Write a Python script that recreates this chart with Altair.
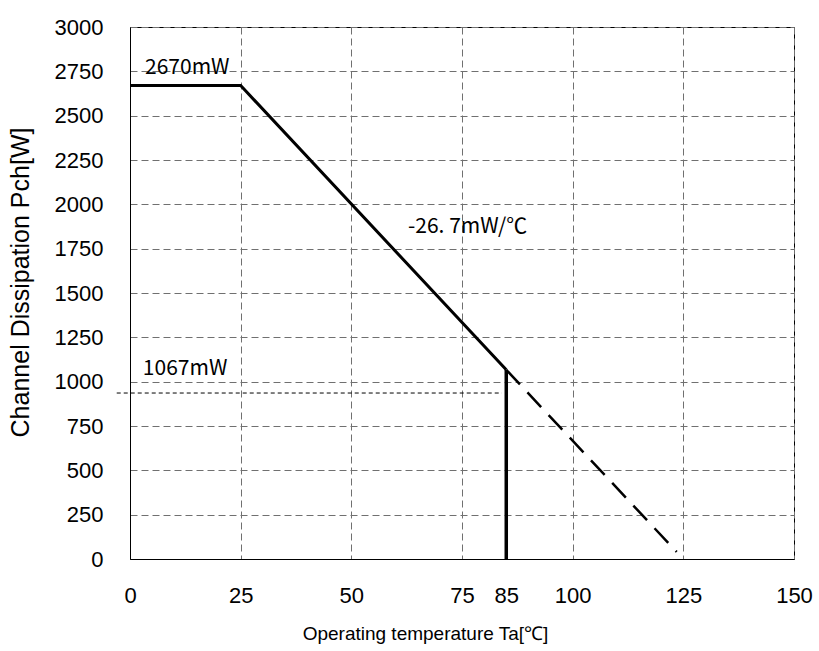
import altair as alt
import pandas as pd

# ---- data ----
x_ticks = [0, 25, 50, 75, 85, 100, 125, 150]
y_ticks = [0, 250, 500, 750, 1000, 1250, 1500, 1750, 2000, 2250, 2500, 2750, 3000]

solid_x = [0, 25, 85]
solid_y = [2670, 2670, 1067]

dash_x = [85, 123.5]
dash_y = [1067, 40]

vert_x = [85, 85]
vert_y = [0, 1067]

ref_x = [-3, 84]
ref_y = [936, 936]

ann_text = ["2670mW", "-26. 7mW/℃", "1067mW"]
ann_x = [3.4, 62.8, 2.9]
ann_y = [2769, 1872, 1071]

solid_df = pd.DataFrame({"x": solid_x, "y": solid_y})
dash_df = pd.DataFrame({"x": dash_x, "y": dash_y})
vert_df = pd.DataFrame({"x": vert_x, "y": vert_y})
ref_df = pd.DataFrame({"x": ref_x, "y": ref_y})
ann_df = pd.DataFrame({"t": ann_text, "x": ann_x, "y": ann_y})

FONT = "Liberation Sans"

xscale = alt.Scale(domain=[0, 150], nice=False, zero=False)
yscale = alt.Scale(domain=[0, 3000], nice=False, zero=False)

xaxis = alt.Axis(
    values=x_ticks, format="d",
    title="Operating temperature Ta[℃]",
    titleFont=FONT, titleFontSize=19, titleFontWeight="normal", titleColor="black",
    titleX=295, titleY=74, titleAlign="center", titleBaseline="middle", titleAnchor="start",
    labelFont=FONT, labelFontSize=22,
    labelColor="black", labelPadding=26, labelBaseline="top", labelFlush=False,
    ticks=False, domainColor="black", domainWidth=1,
    grid=True, gridColor="#707070", gridDash=[7, 4], gridWidth=1,
    gridOpacity={"condition": {"test": "datum.value == 85", "value": 0}, "value": 1},
    labelOverlap=False,
)
yaxis = alt.Axis(
    values=y_ticks, format="d",
    title="Channel Dissipation Pch[W]",
    titleFont=FONT, titleFontSize=25, titleFontWeight="normal", titleColor="black",
    titleX=-110, titleY=255, titleAlign="center", titleBaseline="middle", titleAngle=-90,
    titleAnchor="start",
    labelFont=FONT, labelFontSize=22, labelColor="black", labelPadding=27, labelFlush=False,
    ticks=False, domainColor="black", domainWidth=1,
    grid=True, gridColor="#707070", gridDash=[7, 4], gridWidth=1,
    labelOverlap=False,
)

solid = alt.Chart(solid_df).mark_line(color="black", strokeWidth=3, clip=False).encode(
    x=alt.X("x:Q", scale=xscale, axis=xaxis),
    y=alt.Y("y:Q", scale=yscale, axis=yaxis),
)
dashed = alt.Chart(dash_df).mark_line(color="black", strokeWidth=2.5, strokeDash=[20, 11]).encode(
    x=alt.X("x:Q", scale=xscale), y=alt.Y("y:Q", scale=yscale)
)
vert = alt.Chart(vert_df).mark_line(color="black", strokeWidth=3.5).encode(
    x=alt.X("x:Q", scale=xscale), y=alt.Y("y:Q", scale=yscale)
)
ref = alt.Chart(ref_df).mark_line(color="black", strokeWidth=1, strokeDash=[4, 3], clip=False).encode(
    x=alt.X("x:Q", scale=xscale), y=alt.Y("y:Q", scale=yscale)
)
ann = alt.Chart(ann_df).mark_text(
    font="Noto Sans CJK JP", fontSize=21, align="left", baseline="middle", color="black"
).encode(
    x=alt.X("x:Q", scale=xscale), y=alt.Y("y:Q", scale=yscale), text="t:N"
)

chart = alt.layer(solid, dashed, vert, ref, ann).properties(
    width=664, height=532,
    autosize=alt.AutoSizeParams(type="none"),
    padding={"left": 130, "top": 27, "right": 25, "bottom": 92},
    background="white",
).configure_view(stroke="black", strokeWidth=1)

chart.save("out.html", embed_options={"renderer": "svg", "actions": False})
